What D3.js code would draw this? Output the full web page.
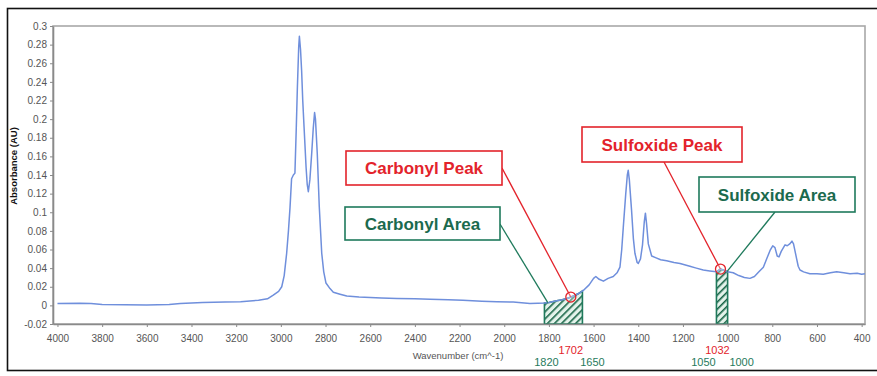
<!DOCTYPE html>
<html>
<head>
<meta charset="utf-8">
<script src="https://cdn.jsdelivr.net/npm/d3@7"></script>
<style>
  body { margin: 0; background: #fff; }
  svg { display: block; font-family: "Liberation Sans", Arial, sans-serif; }
</style>
</head>
<body>
<div id="chart"></div>
<script>
// spectrum (wavenumber cm^-1, absorbance AU)
const wavenumber = [4000, 3900, 3850, 3800, 3700, 3600, 3500, 3450, 3350, 3250, 3180, 3100, 3060, 3034, 3010, 2996, 2985, 2974, 2966, 2959, 2952, 2944, 2937, 2931, 2926, 2920, 2917, 2912, 2907, 2902, 2896, 2887, 2882, 2877, 2870, 2862, 2855, 2849, 2845, 2837, 2828, 2817, 2808, 2798, 2780, 2765, 2735, 2705, 2650, 2600, 2550, 2480, 2400, 2332, 2250, 2185, 2100, 2033, 1960, 1885, 1850, 1820, 1800, 1765, 1740, 1713, 1690, 1665, 1646, 1620, 1600, 1590, 1575, 1556, 1535, 1512, 1495, 1482, 1474, 1467, 1456, 1449, 1445, 1440, 1430, 1422, 1415, 1405, 1400, 1390, 1381, 1373, 1368, 1363, 1355, 1340, 1320, 1300, 1273, 1240, 1213, 1169, 1140, 1109, 1080, 1050, 1032, 1020, 1000, 975, 950, 925, 900, 880, 860, 840, 825, 810, 798, 788, 778, 770, 760, 743, 733, 722, 712, 705, 698, 691, 684, 676, 660, 632, 600, 572, 540, 512, 480, 452, 420, 400, 385];
const absorbance = [0.002, 0.0022, 0.002, 0.001, 0.0008, 0.0005, 0.001, 0.002, 0.003, 0.0035, 0.004, 0.0055, 0.007, 0.011, 0.015, 0.020, 0.032, 0.056, 0.08, 0.105, 0.136, 0.14, 0.142, 0.19, 0.234, 0.278, 0.289, 0.275, 0.252, 0.22, 0.191, 0.148, 0.13, 0.122, 0.135, 0.163, 0.19, 0.207, 0.2, 0.163, 0.106, 0.056, 0.036, 0.024, 0.018, 0.014, 0.012, 0.010, 0.009, 0.0085, 0.008, 0.0075, 0.007, 0.0065, 0.006, 0.0055, 0.0045, 0.004, 0.0035, 0.002, 0.0022, 0.0025, 0.003, 0.005, 0.006, 0.008, 0.01, 0.013, 0.016, 0.022, 0.029, 0.031, 0.028, 0.026, 0.029, 0.031, 0.035, 0.041, 0.06, 0.084, 0.12, 0.14, 0.145, 0.135, 0.102, 0.072, 0.056, 0.046, 0.045, 0.05, 0.065, 0.09, 0.099, 0.088, 0.066, 0.053, 0.051, 0.049, 0.048, 0.046, 0.045, 0.042, 0.040, 0.038, 0.037, 0.036, 0.039, 0.038, 0.036, 0.035, 0.032, 0.030, 0.029, 0.031, 0.036, 0.041, 0.05, 0.059, 0.064, 0.062, 0.053, 0.052, 0.058, 0.065, 0.064, 0.066, 0.069, 0.066, 0.058, 0.050, 0.042, 0.038, 0.036, 0.034, 0.034, 0.0335, 0.035, 0.036, 0.035, 0.034, 0.0345, 0.0335, 0.034];

const xTicks = [4000, 3800, 3600, 3400, 3200, 3000, 2800, 2600, 2400, 2200, 2000, 1800, 1600, 1400, 1200, 1000, 800, 600, 400];
const yTicks = [-0.02, 0, 0.02, 0.04, 0.06, 0.08, 0.1, 0.12, 0.14, 0.16, 0.18, 0.2, 0.22, 0.24, 0.26, 0.28, 0.3];

// integration bands and peak positions
const bandNames = ['Carbonyl Area', 'Sulfoxide Area'];
const bandFrom = [1820, 1050];
const bandTo = [1650, 1000];
const peakNames = ['Carbonyl Peak', 'Sulfoxide Peak'];
const peakAt = [1702, 1032];

const width = 877, height = 376;
const margin = { top: 26, right: 12, bottom: 52, left: 53 };
const red = '#e3232b', green = '#1f7a5c', greenText = '#1b6a4e', blue = '#6f8fdc';

const data = wavenumber.map((w, i) => ({ w: w, a: absorbance[i] }));

const svg = d3.select('#chart')
  .append('svg')
  .attr('width', width)
  .attr('height', height);

// outer black frame of the figure
svg.append('rect')
  .attr('x', 7.5).attr('y', 8.5)
  .attr('width', 900).attr('height', 362)
  .attr('fill', 'none').attr('stroke', '#111').attr('stroke-width', 1.6);

const x = d3.scaleLinear()
  .domain([4020, 385])
  .range([margin.left, width - margin.right]);

const y = d3.scaleLinear()
  .domain([-0.02, 0.3])
  .range([height - margin.bottom, margin.top]);

// curve value at any wavenumber (linear between read points)
const curveAt = w => {
  for (let i = 0; i < data.length - 1; i++) {
    const p = data[i], q = data[i + 1];
    if (w <= p.w && w >= q.w) return p.a + (q.a - p.a) * (p.w - w) / (p.w - q.w);
  }
  return 0;
};

const defs = svg.append('defs');
defs.append('pattern')
  .attr('id', 'hatch')
  .attr('patternUnits', 'userSpaceOnUse')
  .attr('width', 5).attr('height', 5)
  .attr('patternTransform', 'rotate(45)')
  .call(p => {
    p.append('rect').attr('width', 5).attr('height', 5).attr('fill', '#e4f3eb');
    p.append('line').attr('x1', 0).attr('y1', 0).attr('x2', 0).attr('y2', 5)
      .attr('stroke', '#176446').attr('stroke-width', 3.2);
  });

// plot frame
svg.append('rect')
  .attr('x', margin.left).attr('y', margin.top)
  .attr('width', width - margin.right - margin.left)
  .attr('height', height - margin.bottom - margin.top)
  .attr('fill', 'none').attr('stroke', '#a8a8a8').attr('stroke-width', 1.6);

// hatched bands under the curve
bandNames.forEach((name, i) => {
  const pts = [{ w: bandFrom[i], a: curveAt(bandFrom[i]) }]
    .concat(data.filter(d => d.w < bandFrom[i] && d.w > bandTo[i]))
    .concat([{ w: bandTo[i], a: curveAt(bandTo[i]) }]);
  const area = d3.area()
    .x(d => x(d.w))
    .y0(y(-0.02))
    .y1(d => y(d.a));
  svg.append('path')
    .datum(pts)
    .attr('d', area)
    .attr('fill', 'url(#hatch)')
    .attr('stroke', green)
    .attr('stroke-width', 1.6);
});

// spectrum
svg.append('path')
  .datum(data.filter(d => d.w >= 385))
  .attr('d', d3.line().x(d => x(d.w)).y(d => y(d.a)))
  .attr('fill', 'none')
  .attr('stroke', blue)
  .attr('stroke-width', 1.5)
  .attr('stroke-linejoin', 'round');

// axes
const xAxis = svg.append('g')
  .attr('transform', `translate(0, ${height - margin.bottom})`)
  .call(d3.axisBottom(x).tickValues(xTicks).tickSize(3).tickSizeOuter(0).tickFormat(d3.format('d')));
const yAxis = svg.append('g')
  .attr('transform', `translate(${margin.left}, 0)`)
  .call(d3.axisLeft(y).tickValues(yTicks).tickSize(3).tickSizeOuter(0).tickFormat(d => String(+d.toFixed(2))));
[xAxis, yAxis].forEach(g => {
  g.select('.domain').attr('stroke', '#8a8a8a').attr('stroke-width', 1.6);
  g.selectAll('.tick line').attr('stroke', '#8a8a8a');
  g.selectAll('.tick text').attr('fill', '#555').attr('font-size', 10)
    .attr('font-family', '"Liberation Sans", Arial, sans-serif');
});
xAxis.selectAll('.tick text').attr('dy', '1.15em');

svg.append('text')
  .attr('x', 458).attr('y', 359)
  .attr('text-anchor', 'middle')
  .attr('font-size', 9.5).attr('fill', '#555')
  .text('Wavenumber (cm^-1)');

svg.append('text')
  .attr('transform', 'translate(17, 166) rotate(-90)')
  .attr('text-anchor', 'middle')
  .attr('font-size', 9.5).attr('font-weight', 'bold').attr('fill', '#111')
  .text('Absorbance (AU)');

// numbers under the axis
const peakDx = [0, -3];
peakAt.forEach((w, i) => {
  svg.append('text')
    .attr('x', x(w) + peakDx[i]).attr('y', 354)
    .attr('text-anchor', 'middle')
    .attr('font-size', 11).attr('fill', red)
    .text(w);
});
const bandDx = [[2, 10], [-13, 14]];
bandNames.forEach((name, i) => {
  [bandFrom[i], bandTo[i]].forEach((w, j) => {
    svg.append('text')
      .attr('x', x(w) + bandDx[i][j]).attr('y', 366)
      .attr('text-anchor', 'middle')
      .attr('font-size', 11).attr('fill', green)
      .text(w);
  });
});

// callout boxes
const peakBox = [{ x: 346, y: 151, w: 156, h: 34, ax: 502, ay: 168 }, { x: 582, y: 127, w: 160, h: 35, ax: 664, ay: 162 }];
const bandBox = [{ x: 345, y: 207, w: 155, h: 33, ax: 500, ay: 224, tw: 1805 }, { x: 699, y: 177, w: 156, h: 35, ax: 775, ay: 212, tw: 1003 }];

peakNames.forEach((name, i) => {
  const b = peakBox[i];
  svg.append('line')
    .attr('x1', b.ax).attr('y1', b.ay)
    .attr('x2', x(peakAt[i])).attr('y2', y(curveAt(peakAt[i])))
    .attr('stroke', red).attr('stroke-width', 1.3);
  svg.append('circle')
    .attr('cx', x(peakAt[i])).attr('cy', y(curveAt(peakAt[i])))
    .attr('r', 5)
    .attr('fill', 'rgba(255,255,255,0.3)').attr('stroke', red).attr('stroke-width', 1.3);
  svg.append('rect')
    .attr('x', b.x).attr('y', b.y).attr('width', b.w).attr('height', b.h)
    .attr('fill', '#fff').attr('stroke', red).attr('stroke-width', 1.6);
  svg.append('text')
    .attr('x', b.x + b.w / 2).attr('y', b.y + b.h / 2 + 6)
    .attr('text-anchor', 'middle')
    .attr('font-size', 17).attr('font-weight', 'bold').attr('fill', red)
    .text(name);
});

bandNames.forEach((name, i) => {
  const b = bandBox[i];
  svg.append('line')
    .attr('x1', b.ax).attr('y1', b.ay)
    .attr('x2', x(b.tw)).attr('y2', y(curveAt(b.tw)))
    .attr('stroke', green).attr('stroke-width', 1.3);
  svg.append('rect')
    .attr('x', b.x).attr('y', b.y).attr('width', b.w).attr('height', b.h)
    .attr('fill', '#fff').attr('stroke', green).attr('stroke-width', 1.6);
  svg.append('text')
    .attr('x', b.x + b.w / 2).attr('y', b.y + b.h / 2 + 6)
    .attr('text-anchor', 'middle')
    .attr('font-size', 17).attr('font-weight', 'bold').attr('fill', greenText)
    .text(name);
});
</script>
</body>
</html>
